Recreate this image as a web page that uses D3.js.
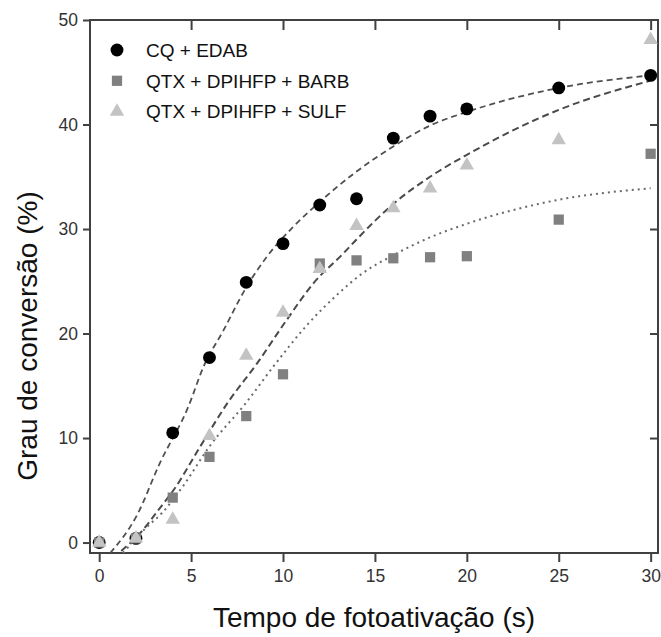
<!DOCTYPE html>
<html>
<head>
<meta charset="utf-8">
<script src="https://cdn.jsdelivr.net/npm/d3@7"></script>
<style>
  body { margin: 0; background: #fff; }
  svg { display: block; font-family: "Liberation Sans", Arial, sans-serif; }
</style>
</head>
<body>
<svg id="chart" width="661" height="637"></svg>
<script>
// measured data points (tempo de fotoativacao, grau de conversao)
var tempos = [0, 2, 4, 6, 8, 10, 12, 14, 16, 18, 20, 25, 30];
var cqEdab   = [0, 0.4, 10.5, 17.7, 24.9, 28.6, 32.3, 32.9, 38.7, 40.8, 41.5, 43.5, 44.7];
var qtxBarb  = [0, 0.4, 4.3, 8.2, 12.1, 16.1, 26.7, 27.0, 27.2, 27.3, 27.4, 30.9, 37.2];
var qtxSulf  = [0, 0.4, 2.2, 10.2, 17.9, 22.0, 26.2, 30.3, 32.0, 33.9, 36.1, 38.5, 48.1];

// fitted curves
var fitCqX   = [0.6, 2.05, 3.3, 4.85, 5.67, 6.76, 7.93, 9.1, 10.55, 12, 14, 16, 18, 20, 25, 30];
var fitCqY   = [-1.0, 2.6, 7.6, 13.0, 16.8, 20.3, 24.2, 27.3, 30.2, 32.6, 35.5, 37.9, 39.9, 41.2, 43.5, 44.7];
var fitSulfX = [1.2, 2.23, 3.3, 4.04, 5.5, 7.0, 8.57, 10.2, 11.65, 13.3, 14, 16, 18, 20, 25, 30];
var fitSulfY = [-0.8, 0.9, 3.3, 5.0, 9.2, 13.4, 17.1, 21.3, 24.8, 27.7, 29.0, 32.4, 35.0, 37.1, 41.4, 44.2];
var fitBarbX = [1.3, 2.6, 3.4, 4.6, 6, 8, 9.5, 11.3, 13, 14.2, 16, 18, 20, 25, 30];
var fitBarbY = [-1.0, 1.5, 2.8, 5.5, 9.2, 13.4, 16.9, 20.8, 23.8, 25.6, 27.5, 29.2, 30.5, 32.8, 33.9];

var seriesNames = ["CQ + EDAB", "QTX + DPIHFP + BARB", "QTX + DPIHFP + SULF"];
var xTicks = [0, 5, 10, 15, 20, 25, 30];
var yTicks = [0, 10, 20, 30, 40, 50];

(function conversionChart() {

    var svg = d3.select("#chart");
    var pLeft = 90, pRight = 658, pTop = 20, pBottom = 553;

    var x = d3.scaleLinear().domain([-0.5, 30.4]).range([pLeft, pRight]);
    var y = d3.scaleLinear().domain([-1, 50]).range([pBottom, pTop]);

    var frameColor = "#404040";

    svg.append("defs").append("clipPath").attr("id", "clip")
        .append("rect")
        .attr("x", pLeft).attr("y", pTop)
        .attr("width", pRight - pLeft).attr("height", pBottom - pTop);

    // axes
    var xAxis = svg.append("g")
        .attr("transform", "translate(0," + pBottom + ")")
        .call(d3.axisBottom(x).tickValues(xTicks).tickSize(9).tickPadding(8).tickSizeOuter(0));
    var yAxis = svg.append("g")
        .attr("transform", "translate(" + pLeft + ",0)")
        .call(d3.axisLeft(y).tickValues(yTicks).tickSize(7).tickPadding(5).tickSizeOuter(0));
    var xTop = svg.append("g")
        .attr("transform", "translate(0," + pTop + ")")
        .call(d3.axisBottom(x).tickValues(xTicks.slice(1)).tickSize(10).tickFormat("").tickSizeOuter(0));
    var yRight = svg.append("g")
        .attr("transform", "translate(" + pRight + ",0)")
        .call(d3.axisRight(y).tickValues([10, 20, 30, 40]).tickSize(-8).tickFormat("").tickSizeOuter(0));

    [xAxis, yAxis, xTop, yRight].forEach(function (g) {
        g.attr("font-size", 17.5).attr("font-family", "Liberation Sans, Arial, sans-serif");
        g.select(".domain").remove();
        g.selectAll("line").attr("stroke", frameColor).attr("stroke-width", 2);
        g.selectAll("text").attr("fill", "#333");
    });

    svg.append("rect")
        .attr("x", pLeft).attr("y", pTop)
        .attr("width", pRight - pLeft).attr("height", pBottom - pTop)
        .attr("fill", "none")
        .attr("stroke", frameColor)
        .attr("stroke-width", 2);

    // fit curves
    var line = d3.line()
        .x(function (d) { return x(d[0]); })
        .y(function (d) { return y(d[1]); })
        .curve(d3.curveMonotoneX);

    var fits = [
        {xs: fitCqX, ys: fitCqY, dash: "6,4", color: "#505050", w: 1.8},
        {xs: fitSulfX, ys: fitSulfY, dash: "7,4", color: "#4a4a4a", w: 2},
        {xs: fitBarbX, ys: fitBarbY, dash: "2,4", color: "#6a6a6a", w: 2}
    ];

    svg.append("g").attr("clip-path", "url(#clip)")
        .selectAll("path")
        .data(fits)
        .enter().append("path")
        .attr("d", function (f) { return line(d3.zip(f.xs, f.ys)); })
        .attr("fill", "none")
        .attr("stroke", function (f) { return f.color; })
        .attr("stroke-width", function (f) { return f.w; })
        .attr("stroke-dasharray", function (f) { return f.dash; });

    // markers
    var markers = [
        {values: cqEdab, symbol: d3.symbolCircle, size: 130, color: "#000"},
        {values: qtxBarb, symbol: d3.symbolSquare, size: 105, color: "#808080"},
        {values: qtxSulf, symbol: d3.symbolTriangle, size: 90, color: "#c3c3c3"}
    ];

    markers.forEach(function (m) {
        svg.append("g")
            .selectAll("path")
            .data(m.values)
            .enter().append("path")
            .attr("transform", function (d, i) { return "translate(" + x(tempos[i]) + "," + y(d) + ")"; })
            .attr("d", d3.symbol().type(m.symbol).size(m.size))
            .attr("fill", m.color);
    });

    // legend
    var legend = svg.append("g")
        .selectAll("g")
        .data(seriesNames)
        .enter().append("g")
        .attr("transform", function (d, i) { return "translate(117," + (50 + i * 30.8) + ")"; });

    legend.append("path")
        .attr("d", function (d, i) { return d3.symbol().type(markers[i].symbol).size(markers[i].size)(); })
        .attr("fill", function (d, i) { return markers[i].color; });

    legend.append("text")
        .attr("x", 29)
        .attr("dy", "0.36em")
        .attr("font-size", "19px")
        .attr("fill", "#111")
        .text(function (d) { return d; });

    // axis titles
    svg.append("text")
        .attr("x", (pLeft + pRight) / 2)
        .attr("y", 627)
        .attr("text-anchor", "middle")
        .attr("font-size", "28px")
        .attr("fill", "#111")
        .text("Tempo de fotoativação (s)");

    svg.append("text")
        .attr("transform", "translate(37,336) rotate(-90)")
        .attr("text-anchor", "middle")
        .attr("font-size", "28px")
        .attr("fill", "#111")
        .text("Grau de conversão (%)");

}());
</script>
</body>
</html>
